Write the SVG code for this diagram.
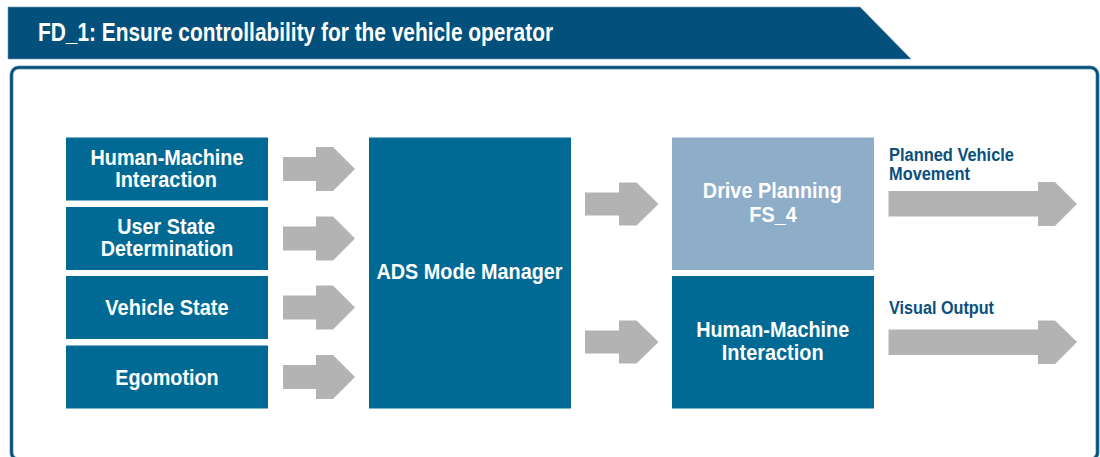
<svg xmlns="http://www.w3.org/2000/svg" width="1100" height="457" viewBox="0 0 1100 457">
<defs>
<style>
.box{fill:#016a94}
.light{fill:#8dadc9}
.t{font-family:"Liberation Sans",Arial,sans-serif;font-weight:bold;font-size:21.5px;fill:#ffffff;text-anchor:middle}
.lbl{font-family:"Liberation Sans",Arial,sans-serif;font-weight:bold;font-size:17.5px;fill:#0b4f7c}
.title{font-family:"Liberation Sans",Arial,sans-serif;font-weight:bold;font-size:25px;fill:#ffffff}
.arr{fill:#b3b3b3}
</style>
</defs>
<rect width="1100" height="457" fill="#ffffff"/>
<g id="header">
<polygon points="8,7 860,7 911,59 8,59" fill="#03507c" stroke="#6f97b6" stroke-width="0.6"/>
<text class="title" x="38" y="40.5" textLength="515" lengthAdjust="spacingAndGlyphs">FD_1: Ensure controllability for the vehicle operator</text>
</g>
<g id="frame">
<rect x="11.5" y="67.5" width="1086" height="392" rx="7" fill="none" stroke="#7fa3bf" stroke-width="4"/>
<rect x="11.5" y="67.5" width="1086" height="392" rx="7" fill="none" stroke="#03507c" stroke-width="2.6"/>
</g>
<g id="hmi-in">
<rect class="box" x="66" y="137.5" width="202" height="63"/>
<text class="t" x="167" y="165" textLength="153" lengthAdjust="spacingAndGlyphs">Human-Machine</text>
<text class="t" x="166" y="186.7" textLength="101.7" lengthAdjust="spacingAndGlyphs">Interaction</text>
</g>
<g id="user-state">
<rect class="box" x="66" y="207" width="202" height="63"/>
<text class="t" x="166.2" y="234" textLength="97.7" lengthAdjust="spacingAndGlyphs">User State</text>
<text class="t" x="167" y="255.7" textLength="132.7" lengthAdjust="spacingAndGlyphs">Determination</text>
</g>
<g id="vehicle-state">
<rect class="box" x="66" y="276" width="202" height="63"/>
<text class="t" x="167" y="315" textLength="123.3" lengthAdjust="spacingAndGlyphs">Vehicle State</text>
</g>
<g id="egomotion">
<rect class="box" x="66" y="345.5" width="202" height="63"/>
<text class="t" x="167" y="384.5" textLength="103.4" lengthAdjust="spacingAndGlyphs">Egomotion</text>
</g>
<g id="ads-mode-manager">
<rect class="box" x="369" y="137.5" width="202" height="271"/>
<text class="t" x="469.5" y="279" textLength="186" lengthAdjust="spacingAndGlyphs">ADS Mode Manager</text>
</g>
<g id="drive-planning">
<rect class="light" x="672" y="137.5" width="202" height="132.5"/>
<text class="t" x="772.3" y="198.3" textLength="139" lengthAdjust="spacingAndGlyphs">Drive Planning</text>
<text class="t" x="773" y="221.5" textLength="47.4" lengthAdjust="spacingAndGlyphs">FS_4</text>
</g>
<g id="hmi-out">
<rect class="box" x="672" y="276" width="202" height="132.5"/>
<text class="t" x="772.7" y="337.3" textLength="153" lengthAdjust="spacingAndGlyphs">Human-Machine</text>
<text class="t" x="772.7" y="360" textLength="101.7" lengthAdjust="spacingAndGlyphs">Interaction</text>
</g>
<g id="connectors">
<path class="arr" d="M283,157 H316 V147 H333 L355,169 L333,191 H316 V181 H283 Z"/>
<path class="arr" d="M283,226.5 H316 V216.5 H333 L355,238.5 L333,260.5 H316 V250.5 H283 Z"/>
<path class="arr" d="M283,295.5 H316 V285.5 H333 L355,307.5 L333,329.5 H316 V319.5 H283 Z"/>
<path class="arr" d="M283,365 H316 V355 H333 L355,377 L333,399 H316 V389 H283 Z"/>
<path class="arr" d="M585,192.5 H619 V182.5 H636.5 L658.5,204 L636.5,225.5 H619 V215.5 H585 Z"/>
<path class="arr" d="M585,330.5 H619 V320.5 H636.5 L658.5,342 L636.5,363.5 H619 V353.5 H585 Z"/>
<path class="arr" d="M888.5,191 H1038 V182 H1055 L1077,204 L1055,226 H1038 V216.5 H888.5 Z"/>
<path class="arr" d="M888.5,329.5 H1038 V320.5 H1055 L1077,342 L1055,364 H1038 V355 H888.5 Z"/>
<text class="lbl" x="889" y="161" textLength="125" lengthAdjust="spacingAndGlyphs">Planned Vehicle</text>
<text class="lbl" x="889" y="179.5" textLength="81" lengthAdjust="spacingAndGlyphs">Movement</text>
<text class="lbl" x="889" y="314" textLength="105" lengthAdjust="spacingAndGlyphs">Visual Output</text>
</g>
</svg>
